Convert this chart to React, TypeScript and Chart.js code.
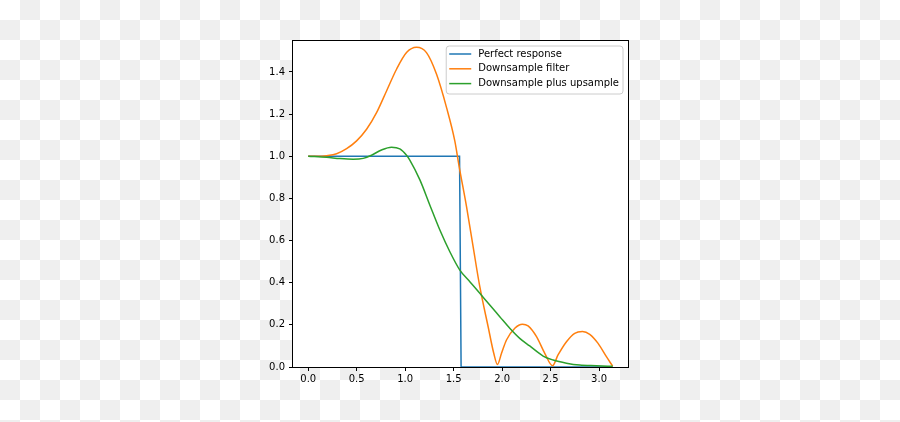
import React, { useEffect, useRef } from "react";
import { Chart, registerables } from "chart.js";

Chart.register(...registerables);

const perfectX = [0, 1.561, 1.577, 3.1416];
const perfectY = [1, 1, 0, 0];

const downX = [0, 0.1, 0.19, 0.293, 0.396, 0.499, 0.602, 0.705, 0.808, 0.911, 1.014, 1.117, 1.22, 1.324, 1.427, 1.512, 1.557, 1.633, 1.701, 1.77, 1.856, 1.914, 1.952, 1.994, 2.045, 2.131, 2.21, 2.268, 2.355, 2.44, 2.52, 2.577, 2.664, 2.749, 2.829, 2.904, 2.99, 3.076, 3.14];
const downY = [1.0, 1.0, 1.003, 1.012, 1.036, 1.073, 1.128, 1.207, 1.31, 1.413, 1.492, 1.517, 1.492, 1.389, 1.231, 1.073, 0.951, 0.761, 0.571, 0.381, 0.191, 0.065, 0.012, 0.065, 0.128, 0.184, 0.203, 0.195, 0.144, 0.065, 0.006, 0.057, 0.12, 0.16, 0.168, 0.155, 0.112, 0.049, 0.004];

const upX = [0, 0.19, 0.327, 0.464, 0.567, 0.653, 0.756, 0.859, 0.945, 1.014, 1.048, 1.152, 1.255, 1.358, 1.461, 1.564, 1.667, 1.77, 1.873, 1.976, 2.079, 2.182, 2.285, 2.423, 2.526, 2.664, 2.8, 2.973, 3.14];
const upY = [1.0, 0.995, 0.989, 0.986, 0.99, 1.005, 1.03, 1.043, 1.035, 1.005, 0.982, 0.888, 0.768, 0.65, 0.547, 0.46, 0.405, 0.35, 0.294, 0.239, 0.184, 0.136, 0.1, 0.052, 0.033, 0.018, 0.009, 0.006, 0.003];

const seriesLabels = ["Perfect response", "Downsample filter", "Downsample plus upsample"];
const seriesColors = ["#1f77b4", "#ff7f0e", "#2ca02c"];

const xTicks = [0, 0.5, 1.0, 1.5, 2.0, 2.5, 3.0];
const yTicks = [0, 0.2, 0.4, 0.6, 0.8, 1.0, 1.2, 1.4];
const xMin = -0.157;
const xMax = 3.2987;
const yMin = 0;
const yMax = 1.547;

const FONT = "'DejaVu Sans', sans-serif";
const CHECKER = "repeating-conic-gradient(#efefef 0% 25%, #ffffff 0% 50%) 0 0 / 40px 40px";

const pts = (xs: number[], ys: number[]) => xs.map((x, i) => ({ x, y: ys[i] }));

const bgPlugin = {
  id: "bgPlugin",
  beforeDraw(chart: any) {
    const ctx = chart.ctx;
    const W = chart.canvas.width;
    const H = chart.canvas.height;
    ctx.save();
    ctx.fillStyle = "#ffffff";
    ctx.fillRect(0, 0, W, H);
    ctx.fillStyle = "#efefef";
    for (let i = 0; i * 20 < W; i++) {
      for (let j = 0; j * 20 < H; j++) {
        if ((i + j) % 2 === 1) ctx.fillRect(i * 20, j * 20, 20, 20);
      }
    }
    ctx.restore();
  },
  beforeDatasetsDraw(chart: any) {
    const ctx = chart.ctx;
    const ca = chart.chartArea;
    ctx.save();
    ctx.fillStyle = "#ffffff";
    ctx.fillRect(ca.left, ca.top, ca.right - ca.left, ca.bottom - ca.top);
    ctx.restore();
  },
  afterDraw(chart: any) {
    const ctx = chart.ctx;
    const ca = chart.chartArea;
    ctx.save();
    ctx.strokeStyle = "#000";
    ctx.lineWidth = 1;
    ctx.strokeRect(Math.round(ca.left) - 0.5, Math.round(ca.top) - 0.5, Math.round(ca.right - ca.left) + 1, Math.round(ca.bottom - ca.top) + 1);
    ctx.font = "10px " + FONT;
    const ds = chart.data.datasets;
    let maxW = 0;
    ds.forEach((d: any) => { maxW = Math.max(maxW, ctx.measureText(d.label).width); });
    const w = 32 + maxW + 4;
    const h = 48;
    const right = ca.right - 5;
    const left = right - w;
    const top = ca.top + 5;
    const r = 3;
    ctx.beginPath();
    ctx.moveTo(left + r, top);
    ctx.lineTo(left + w - r, top);
    ctx.arcTo(left + w, top, left + w, top + r, r);
    ctx.lineTo(left + w, top + h - r);
    ctx.arcTo(left + w, top + h, left + w - r, top + h, r);
    ctx.lineTo(left + r, top + h);
    ctx.arcTo(left, top + h, left, top + h - r, r);
    ctx.lineTo(left, top + r);
    ctx.arcTo(left, top, left + r, top, r);
    ctx.closePath();
    ctx.fillStyle = "rgba(255,255,255,0.8)";
    ctx.fill();
    ctx.strokeStyle = "#cccccc";
    ctx.lineWidth = 1;
    ctx.stroke();
    const rows = [8, 22.8, 37.6];
    ds.forEach((d: any, i: number) => {
      const y = top + rows[i];
      ctx.strokeStyle = d.borderColor;
      ctx.lineWidth = 1.5;
      ctx.beginPath();
      ctx.moveTo(left + 3, y);
      ctx.lineTo(left + 25, y);
      ctx.stroke();
      ctx.fillStyle = "#000";
      ctx.textBaseline = "middle";
      ctx.textAlign = "left";
      ctx.fillText(d.label, left + 32, y);
    });
    ctx.restore();
  },
};

export default function App() {
  const ref = useRef<HTMLCanvasElement>(null);
  useEffect(() => {
    document.body.style.margin = "0";
    document.body.style.background = CHECKER;
    if (!ref.current) return;
    const chart = new Chart(ref.current, {
      type: "line",
      data: {
        datasets: [
          { label: seriesLabels[0], data: pts(perfectX, perfectY), borderColor: seriesColors[0], borderWidth: 1.5, pointRadius: 0, tension: 0, order: 3 },
          { label: seriesLabels[1], data: pts(downX, downY), borderColor: seriesColors[1], borderWidth: 1.5, pointRadius: 0, cubicInterpolationMode: "monotone", order: 2 },
          { label: seriesLabels[2], data: pts(upX, upY), borderColor: seriesColors[2], borderWidth: 1.5, pointRadius: 0, cubicInterpolationMode: "monotone", order: 1 },
        ],
      },
      options: {
        animation: false,
        responsive: false,
        devicePixelRatio: 1,
        layout: { padding: { left: 0, top: 41, right: 272, bottom: 0 } },
        plugins: { legend: { display: false }, tooltip: { enabled: false } },
        scales: {
          x: {
            type: "linear",
            min: xMin,
            max: xMax,
            afterBuildTicks: (s: any) => { s.ticks = xTicks.map((v) => ({ value: v })); },
            afterFit: (s: any) => { s.height = 55; },
            border: { display: false },
            grid: { display: true, drawOnChartArea: false, drawTicks: true, tickLength: 4, tickColor: "#000", lineWidth: 1 },
            ticks: { color: "#000", padding: 2, font: { family: FONT, size: 10 }, maxRotation: 0, autoSkip: false, callback: (v: any) => Number(v).toFixed(1) },
          },
          y: {
            type: "linear",
            min: yMin,
            max: yMax,
            afterBuildTicks: (s: any) => { s.ticks = yTicks.map((v) => ({ value: v })); },
            afterFit: (s: any) => { s.width = 293; },
            border: { display: false },
            grid: { display: true, drawOnChartArea: false, drawTicks: true, tickLength: 4, tickColor: "#000", lineWidth: 1 },
            ticks: { color: "#000", padding: 4, font: { family: FONT, size: 10 }, autoSkip: false, callback: (v: any) => Number(v).toFixed(1) },
          },
        },
      },
      plugins: [bgPlugin],
    } as any);
    return () => chart.destroy();
  }, []);
  return (
    <div style={{ position: "fixed", left: 0, top: 0, width: 900, height: 422, background: CHECKER }}>
      <canvas ref={ref} width={900} height={422} style={{ width: 900, height: 422, display: "block" }} />
    </div>
  );
}
